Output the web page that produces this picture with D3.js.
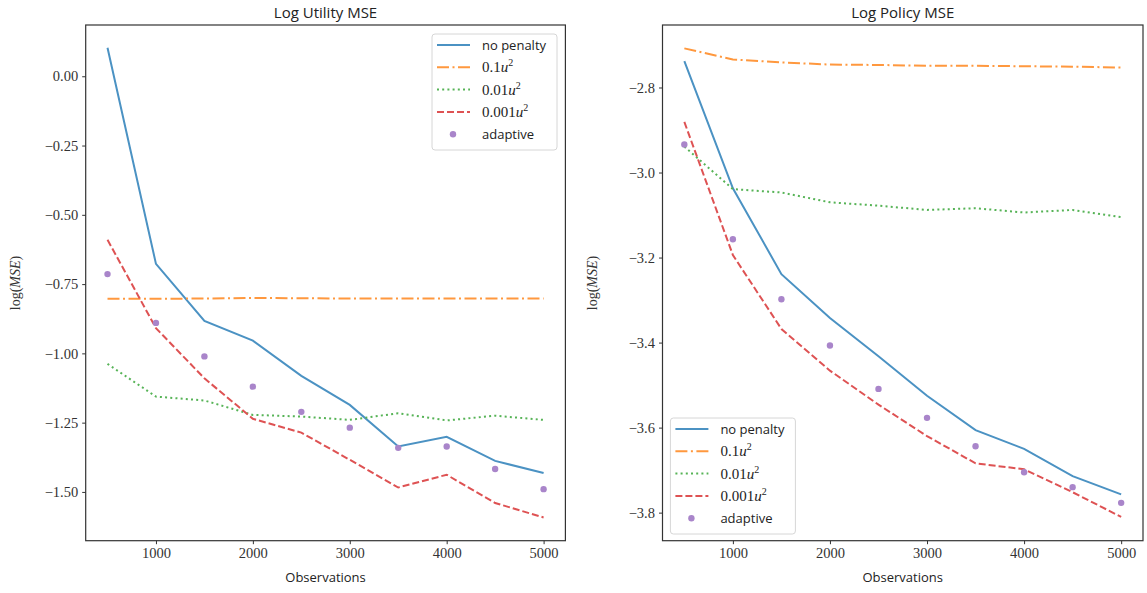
<!DOCTYPE html>
<html>
<head>
<meta charset="utf-8">
<script src="https://cdn.jsdelivr.net/npm/d3@7"></script>
<style>
  body { margin: 0; background: #fff; }
  svg { display: block; }
</style>
</head>
<body>
<script>
// observations on the x axis
const observations = [500, 1000, 1500, 2000, 2500, 3000, 3500, 4000, 4500, 5000];

// log utility MSE
const utilNoPenalty = [0.103, -0.677, -0.883, -0.954, -1.081, -1.186, -1.336, -1.301, -1.388, -1.432];
const utilPen01 = [-0.803, -0.803, -0.802, -0.800, -0.801, -0.802, -0.802, -0.802, -0.802, -0.802];
const utilPen001 = [-1.038, -1.156, -1.170, -1.222, -1.228, -1.240, -1.216, -1.242, -1.225, -1.240];
const utilPen0001 = [-0.590, -0.909, -1.090, -1.236, -1.286, -1.384, -1.484, -1.438, -1.540, -1.592];
const utilAdaptive = [-0.714, -0.890, -1.011, -1.120, -1.211, -1.268, -1.341, -1.336, -1.417, -1.490];

// log policy MSE
const polNoPenalty = [-2.738, -3.037, -3.239, -3.342, -3.432, -3.525, -3.606, -3.650, -3.714, -3.757];
const polPen01 = [-2.708, -2.734, -2.741, -2.746, -2.747, -2.749, -2.749, -2.750, -2.751, -2.753];
const polPen001 = [-2.939, -3.039, -3.047, -3.070, -3.078, -3.088, -3.084, -3.094, -3.088, -3.105];
const polPen0001 = [-2.881, -3.194, -3.368, -3.466, -3.546, -3.620, -3.684, -3.698, -3.752, -3.810];
const polAdaptive = [-2.934, -3.157, -3.298, -3.407, -3.509, -3.577, -3.644, -3.705, -3.740, -3.777];

const xTicks = [1000, 2000, 3000, 4000, 5000];
const utilYTicks = [0, -0.25, -0.5, -0.75, -1.0, -1.25, -1.5];
const polYTicks = [-2.8, -3.0, -3.2, -3.4, -3.6, -3.8];

const seriesNames = ["no penalty", "0.1", "0.01", "0.001", "adaptive"];

const W = 1147, H = 593;
const serif = "'Liberation Serif', serif";
const sans = "'Open Sans', 'DejaVu Sans', sans-serif";

const styles = [
  {color: "#4b92c3", dash: null},
  {color: "#ff983e", dash: "12,3.5,2,3.5"},
  {color: "#56b356", dash: "2,3.2"},
  {color: "#de5253", dash: "7,3"},
  {color: "#a985ca", dot: true}
];

const svg = d3.select("body").append("svg")
  .attr("width", W)
  .attr("height", H);

function panel(opts) {
  const g = svg.append("g");
  const x = d3.scaleLinear().domain([275, 5225]).range([opts.left, opts.right]);
  const y = d3.scaleLinear().domain(opts.yDomain).range([540.7, 25]);

  // title
  g.append("text")
    .attr("x", (opts.left + opts.right) / 2)
    .attr("y", 18)
    .attr("text-anchor", "middle")
    .attr("font-family", sans)
    .attr("font-size", 15)
    .attr("fill", "#222")
    .text(opts.title);

  const series = opts.series;
  const line = d3.line()
    .x((d, i) => x(observations[i]))
    .y(d => y(d));

  const marks = g.append("g");
  series.forEach(function(vals, k) {
    const st = styles[k];
    if (st.dot) {
      marks.selectAll("circle.s" + k)
        .data(vals)
        .enter()
        .append("circle")
          .attr("class", "s" + k)
          .attr("cx", (d, i) => x(observations[i]))
          .attr("cy", d => y(d))
          .attr("r", 3.2)
          .attr("fill", st.color);
    } else {
      marks.append("path")
        .datum(vals)
        .attr("d", line)
        .attr("fill", "none")
        .attr("stroke", st.color)
        .attr("stroke-width", 2)
        .attr("stroke-dasharray", st.dash);
    }
  });

  // axes
  const xAxis = d3.axisBottom(x)
    .tickValues(xTicks)
    .tickSize(3.5)
    .tickPadding(4)
    .tickFormat(d3.format("d"));
  const ax = g.append("g")
    .attr("transform", "translate(0,540.7)")
    .call(xAxis);

  const yAxis = d3.axisLeft(y)
    .tickValues(opts.yTicks)
    .tickSize(3.5)
    .tickPadding(4)
    .tickFormat(d3.format(opts.yFormat));
  const ay = g.append("g")
    .attr("transform", "translate(" + opts.left + ",0)")
    .call(yAxis);

  [ax, ay].forEach(function(a) {
    a.select(".domain").remove();
    a.selectAll("line").attr("stroke", "#333").attr("stroke-width", 1);
    a.selectAll("text")
      .attr("font-family", serif)
      .attr("font-size", 14.5)
      .attr("fill", "#333");
  });

  // frame
  g.append("rect")
    .attr("x", opts.left)
    .attr("y", 25)
    .attr("width", opts.right - opts.left)
    .attr("height", 540.7 - 25)
    .attr("fill", "none")
    .attr("stroke", "#333")
    .attr("stroke-width", 1.2);

  // axis labels
  g.append("text")
    .attr("x", (opts.left + opts.right) / 2)
    .attr("y", 582)
    .attr("text-anchor", "middle")
    .attr("font-family", sans)
    .attr("font-size", 13)
    .attr("fill", "#222")
    .text("Observations");

  const yl = g.append("text")
    .attr("transform", "translate(" + (opts.left - 66) + "," + 283 + ") rotate(-90)")
    .attr("text-anchor", "middle")
    .attr("font-family", serif)
    .attr("font-size", 14)
    .attr("fill", "#333");
  yl.append("tspan").text("log(");
  yl.append("tspan").attr("font-style", "italic").text("MSE");
  yl.append("tspan").text(")");

  // legend
  const lg = g.append("g").attr("transform", "translate(" + opts.legend[0] + "," + opts.legend[1] + ")");
  lg.append("rect")
    .attr("width", 125)
    .attr("height", 116)
    .attr("rx", 3)
    .attr("fill", "#fff")
    .attr("fill-opacity", 0.8)
    .attr("stroke", "#d6d6d6");
  seriesNames.forEach(function(name, k) {
    const st = styles[k];
    const cy = 11 + k * 22.3;
    if (st.dot) {
      lg.append("circle")
        .attr("cx", 21)
        .attr("cy", cy)
        .attr("r", 3.2)
        .attr("fill", st.color);
    } else {
      lg.append("line")
        .attr("x1", 5).attr("x2", 38)
        .attr("y1", cy).attr("y2", cy)
        .attr("stroke", st.color)
        .attr("stroke-width", 2)
        .attr("stroke-dasharray", st.dash);
    }
    const t = lg.append("text")
      .attr("x", 50)
      .attr("y", cy + 5)
      .attr("fill", "#222");
    if (k === 0 || k === 4) {
      t.attr("font-family", sans).attr("font-size", 13).text(name);
    } else {
      t.attr("font-family", serif).attr("font-size", 15);
      t.append("tspan").text(name);
      t.append("tspan").attr("font-style", "italic").text("u");
      t.append("tspan").attr("font-size", 10).attr("dy", -6).text("2");
    }
  });
}

panel({
  title: "Log Utility MSE",
  left: 85.7, right: 565.4,
  yDomain: [-1.676, 0.185],
  yTicks: utilYTicks,
  yFormat: ".2f",
  series: [utilNoPenalty, utilPen01, utilPen001, utilPen0001, utilAdaptive],
  legend: [432, 34]
});

panel({
  title: "Log Policy MSE",
  left: 662.5, right: 1143,
  yDomain: [-3.866, -2.653],
  yTicks: polYTicks,
  yFormat: ".1f",
  series: [polNoPenalty, polPen01, polPen001, polPen0001, polAdaptive],
  legend: [670.4, 418]
});
</script>
</body>
</html>
